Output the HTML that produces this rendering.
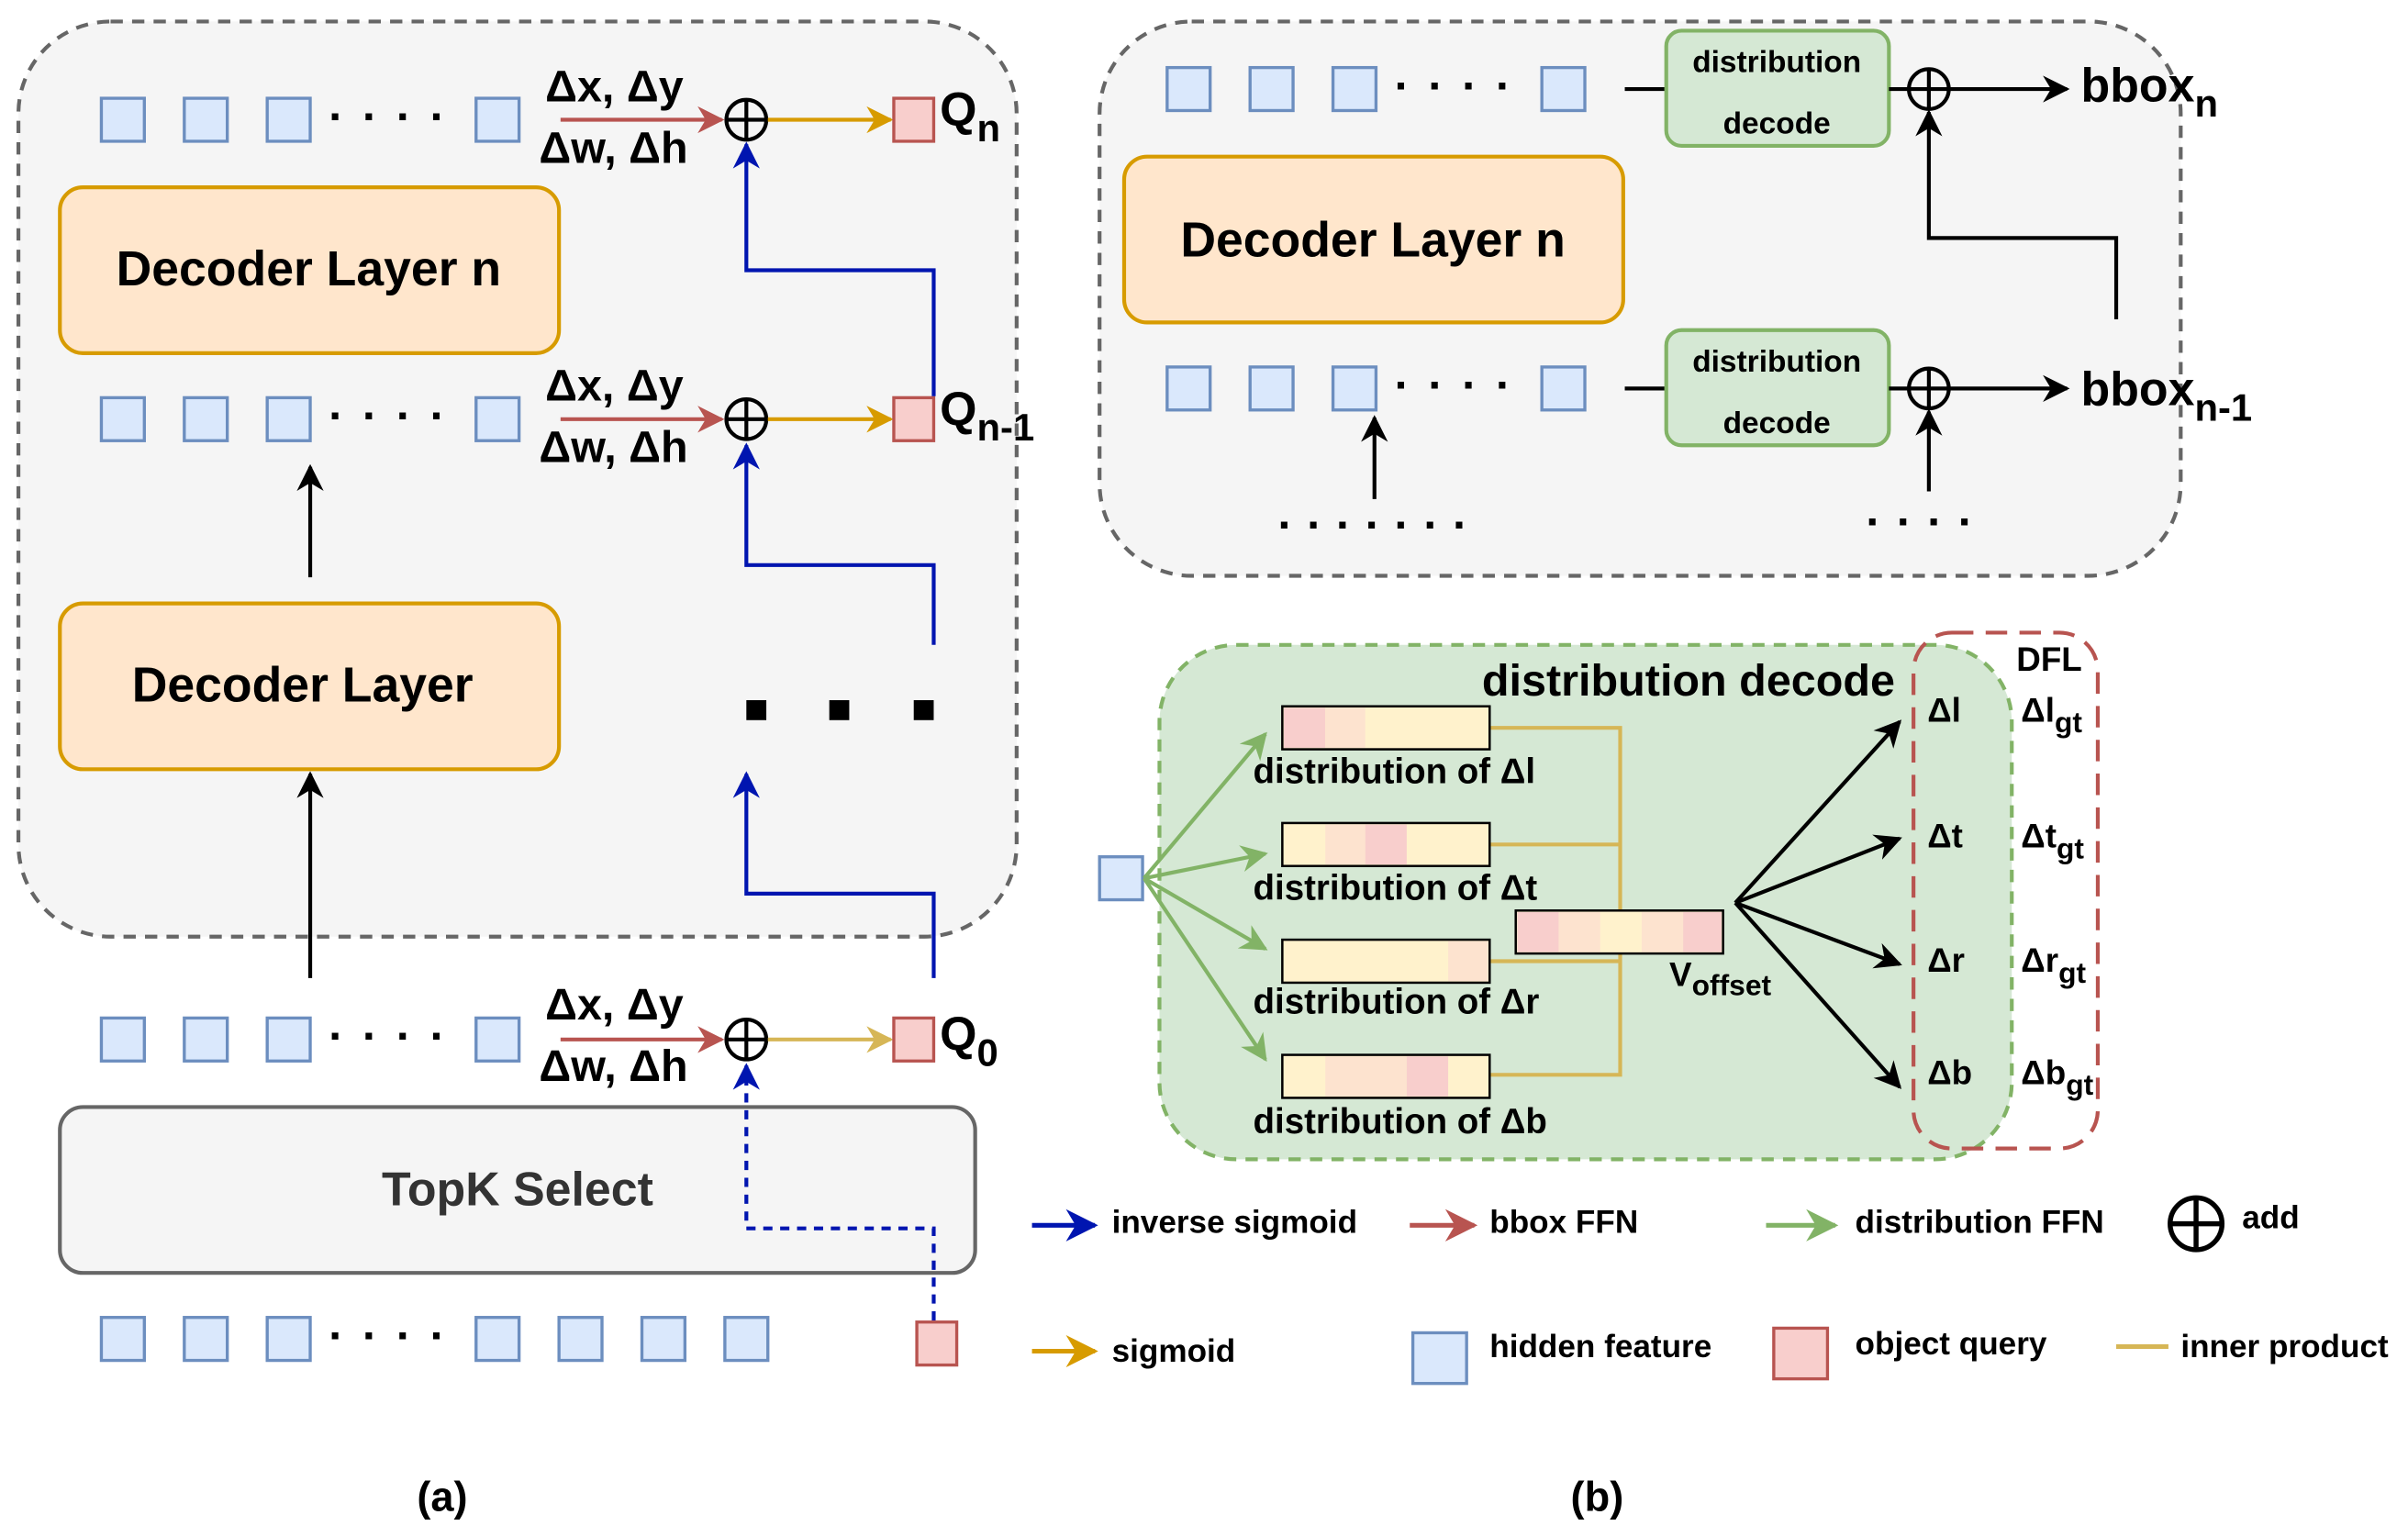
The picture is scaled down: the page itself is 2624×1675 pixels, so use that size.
<!DOCTYPE html>
<html><head><meta charset="utf-8"><style>html,body{margin:0;padding:0;background:#fff}svg{display:block}text{font-family:"Liberation Sans",Arial,sans-serif;font-weight:bold;fill:#000}</style></head><body>
<svg width="2624" height="1675" viewBox="0 0 1568 1001" preserveAspectRatio="none" xmlns="http://www.w3.org/2000/svg">
<defs>
<marker id="ab" viewBox="0 0 10 10" refX="9" refY="5" markerWidth="7" markerHeight="7" orient="auto"><path d="M0,0L10,5L0,10L3,5z" fill="#0015b0"/></marker>
<marker id="ar" viewBox="0 0 10 10" refX="9" refY="5" markerWidth="7" markerHeight="7" orient="auto"><path d="M0,0L10,5L0,10L3,5z" fill="#b85450"/></marker>
<marker id="ao" viewBox="0 0 10 10" refX="9" refY="5" markerWidth="7" markerHeight="7" orient="auto"><path d="M0,0L10,5L0,10L3,5z" fill="#d79b00"/></marker>
<marker id="ay" viewBox="0 0 10 10" refX="9" refY="5" markerWidth="7" markerHeight="7" orient="auto"><path d="M0,0L10,5L0,10L3,5z" fill="#d6b656"/></marker>
<marker id="ak" viewBox="0 0 10 10" refX="9" refY="5" markerWidth="7" markerHeight="7" orient="auto"><path d="M0,0L10,5L0,10L3,5z" fill="#000"/></marker>
<marker id="ag" viewBox="0 0 10 10" refX="9" refY="5" markerWidth="7" markerHeight="7" orient="auto"><path d="M0,0L10,5L0,10L3,5z" fill="#82b366"/></marker>
<g id="sq"><rect width="28" height="28" fill="#dae8fc" stroke="#6c8ebf" stroke-width="2"/></g>
<g id="rq"><rect width="26" height="28" fill="#f8cecc" stroke="#b85450" stroke-width="2"/></g>
<g id="cp"><circle r="13" fill="none" stroke="#000" stroke-width="2.5"/><path d="M-13,0H13M0,-13V13" stroke="#000" stroke-width="2.5"/></g>
</defs>
<rect x="12" y="14" width="650" height="596" rx="60" fill="#f5f5f5" stroke="#666" stroke-width="2.5" stroke-dasharray="8,6"/>
<g id="row">
<use href="#sq" x="66" y="64"/><use href="#sq" x="120" y="64"/><use href="#sq" x="174" y="64"/><use href="#sq" x="310" y="64"/>
<text x="214" y="86" font-size="30" letter-spacing="12">····</text>
</g>
<use href="#row" y="195"/>
<use href="#row" y="599"/>
<use href="#sq" x="66" y="858"/><use href="#sq" x="120" y="858"/><use href="#sq" x="174" y="858"/><use href="#sq" x="310" y="858"/><use href="#sq" x="364" y="858"/><use href="#sq" x="418" y="858"/><use href="#sq" x="472" y="858"/>
<text x="214" y="880" font-size="30" letter-spacing="12">····</text>
<use href="#rq" x="597" y="861"/>
<g id="op">
<line x1="365" y1="78" x2="470" y2="78" stroke="#b85450" stroke-width="2.5" marker-end="url(#ar)"/>
<use href="#cp" x="486" y="78"/>
<line x1="500" y1="78" x2="580" y2="78" stroke="#d79b00" stroke-width="2.5" marker-end="url(#ao)"/>
<text x="355" y="66" font-size="29">Δx, Δy</text>
<text x="351" y="106" font-size="29">Δw, Δh</text>
</g>
<use href="#rq" x="582" y="64"/><text x="612" y="82" font-size="31">Q<tspan font-size="25" dy="10">n</tspan></text>
<use href="#op" y="195"/>
<use href="#rq" x="582" y="259"/><text x="612" y="277" font-size="31">Q<tspan font-size="25" dy="10">n-1</tspan></text>
<line x1="365" y1="677" x2="470" y2="677" stroke="#b85450" stroke-width="2.5" marker-end="url(#ar)"/>
<use href="#cp" x="486" y="677"/>
<line x1="500" y1="677" x2="580" y2="677" stroke="#d6b656" stroke-width="2.5" marker-end="url(#ay)"/>
<text x="355" y="664" font-size="29">Δx, Δy</text><text x="351" y="704" font-size="29">Δw, Δh</text>
<use href="#rq" x="582" y="663"/><text x="612" y="684" font-size="31">Q<tspan font-size="25" dy="10">0</tspan></text>
<rect x="39" y="122" width="325" height="108" rx="15" fill="#ffe6cc" stroke="#d79b00" stroke-width="2.5"/>
<text x="201" y="186" font-size="32" text-anchor="middle">Decoder Layer n</text>
<rect x="39" y="393" width="325" height="108" rx="15" fill="#ffe6cc" stroke="#d79b00" stroke-width="2.5"/>
<text x="197" y="457" font-size="32" text-anchor="middle">Decoder Layer</text>
<rect x="39" y="721" width="596" height="108" rx="15" fill="#f5f5f5" stroke="#666" stroke-width="2.5"/>
<text x="337" y="785" font-size="31" text-anchor="middle" style="fill:#333">TopK Select</text>
<g fill="none" stroke="#0015b0" stroke-width="2.5">
<path d="M608,258V176H486V94" marker-end="url(#ab)"/>
<path d="M608,420V368H486V290" marker-end="url(#ab)"/>
<path d="M608,637V582H486V504" marker-end="url(#ab)"/>
<path d="M608,860V800H486V694" stroke-dasharray="6,5" marker-end="url(#ab)"/>
</g>
<g stroke="#000" stroke-width="2.5">
<line x1="202" y1="376" x2="202" y2="304" marker-end="url(#ak)"/>
<line x1="202" y1="637" x2="202" y2="504" marker-end="url(#ak)"/>
</g>
<rect x="486" y="456" width="13" height="13"/><rect x="540" y="456" width="13" height="13"/><rect x="595" y="456" width="13" height="13"/>
<rect x="716" y="14" width="704" height="361" rx="60" fill="#f5f5f5" stroke="#666" stroke-width="2.5" stroke-dasharray="8,6"/>
<g id="rrow">
<use href="#sq" x="760" y="44"/><use href="#sq" x="814" y="44"/><use href="#sq" x="868" y="44"/><use href="#sq" x="1004" y="44"/>
<text x="908" y="66" font-size="30" letter-spacing="12">····</text>
<line x1="1058" y1="58" x2="1085" y2="58" stroke="#000" stroke-width="2.5"/>
<rect x="1085" y="20" width="145" height="75" rx="10" fill="#d5e8d4" stroke="#82b366" stroke-width="2.5"/>
<text x="1157" y="47" font-size="20" text-anchor="middle">distribution</text>
<text x="1157" y="87" font-size="20" text-anchor="middle">decode</text>
<line x1="1230" y1="58" x2="1242" y2="58" stroke="#000" stroke-width="2.5"/>
<use href="#cp" x="1256" y="58"/>
<line x1="1269" y1="58" x2="1346" y2="58" stroke="#000" stroke-width="2.5" marker-end="url(#ak)"/>
</g>
<use href="#rrow" y="195"/>
<text x="1355" y="66" font-size="31">bbox<tspan font-size="25" dy="10">n</tspan></text>
<text x="1355" y="264" font-size="31">bbox<tspan font-size="25" dy="10">n-1</tspan></text>
<rect x="732" y="102" width="325" height="108" rx="15" fill="#ffe6cc" stroke="#d79b00" stroke-width="2.5"/>
<text x="894" y="167" font-size="32" text-anchor="middle">Decoder Layer n</text>
<g fill="none" stroke="#000" stroke-width="2.5">
<path d="M1378,208V155H1256V73" marker-end="url(#ak)"/>
<path d="M1256,320V268" marker-end="url(#ak)"/>
<path d="M895,325V272" marker-end="url(#ak)"/>
</g>
<text x="832" y="352" font-size="30" letter-spacing="9">·······</text>
<text x="1215" y="350" font-size="30" letter-spacing="10">····</text>
<rect x="755" y="420" width="555" height="335" rx="50" fill="#d5e8d4" stroke="#82b366" stroke-width="2.5" stroke-dasharray="8,6"/>
<rect x="1246" y="412" width="120" height="336" rx="25" fill="none" stroke="#b85450" stroke-width="2.5" stroke-dasharray="14,8"/>
<text x="965" y="453" font-size="29">distribution decode</text>
<text x="1313" y="437" font-size="22">DFL</text>
<use href="#sq" x="716" y="558"/>
<g stroke="#82b366" stroke-width="2.5">
<line x1="745" y1="572" x2="824" y2="478" marker-end="url(#ag)"/>
<line x1="745" y1="572" x2="824" y2="556" marker-end="url(#ag)"/>
<line x1="745" y1="572" x2="824" y2="618" marker-end="url(#ag)"/>
<line x1="745" y1="572" x2="824" y2="690" marker-end="url(#ag)"/>
</g>
<g fill="none" stroke="#d6b656" stroke-width="2.5">
<path d="M970,474H1055V700H970M970,550H1055M970,626H1055M1055,607H987"/>
</g>
<g stroke="#000" stroke-width="1.5">
<rect x="835" y="460" width="135" height="28" fill="#fff2cc"/>
<rect x="835" y="536" width="135" height="28" fill="#fff2cc"/>
<rect x="835" y="612" width="135" height="28" fill="#fff2cc"/>
<rect x="835" y="687" width="135" height="28" fill="#fff2cc"/>
<rect x="987" y="593" width="135" height="28" fill="#fff2cc"/>
</g>
<g stroke="none">
<rect x="836" y="461" width="27" height="26" fill="#f8cecc"/><rect x="863" y="461" width="26" height="26" fill="#fde3cf"/>
<rect x="863" y="537" width="26" height="26" fill="#fde3cf"/><rect x="889" y="537" width="27" height="26" fill="#f8cecc"/>
<rect x="943" y="613" width="26" height="26" fill="#fde3cf"/>
<rect x="863" y="688" width="53" height="26" fill="#fde3cf"/><rect x="916" y="688" width="27" height="26" fill="#f8cecc"/>
<rect x="988" y="594" width="27" height="26" fill="#f8cecc"/><rect x="1015" y="594" width="27" height="26" fill="#fde3cf"/><rect x="1069" y="594" width="27" height="26" fill="#fde3cf"/><rect x="1096" y="594" width="25" height="26" fill="#f8cecc"/>
</g>
<text x="816" y="510" font-size="23">distribution of Δl</text>
<text x="816" y="586" font-size="23">distribution of Δt</text>
<text x="816" y="660" font-size="23">distribution of Δr</text>
<text x="816" y="738" font-size="23">distribution of Δb</text>
<text x="1087" y="642" font-size="22">V<tspan font-size="19" dy="6">offset</tspan></text>
<g stroke="#000" stroke-width="2.5">
<line x1="1130" y1="588" x2="1237" y2="470" marker-end="url(#ak)"/>
<line x1="1130" y1="588" x2="1237" y2="546" marker-end="url(#ak)"/>
<line x1="1130" y1="588" x2="1237" y2="628" marker-end="url(#ak)"/>
<line x1="1130" y1="588" x2="1237" y2="708" marker-end="url(#ak)"/>
</g>
<g font-size="22">
<text x="1255" y="470">Δl</text><text x="1255" y="552">Δt</text><text x="1255" y="633">Δr</text><text x="1255" y="706">Δb</text>
<text x="1316" y="470">Δl<tspan font-size="19" dy="7">gt</tspan></text>
<text x="1316" y="552">Δt<tspan font-size="19" dy="7">gt</tspan></text>
<text x="1316" y="633">Δr<tspan font-size="19" dy="7">gt</tspan></text>
<text x="1316" y="706">Δb<tspan font-size="19" dy="7">gt</tspan></text>
</g>
<line x1="672" y1="798" x2="713" y2="798" stroke="#0015b0" stroke-width="3" marker-end="url(#ab)"/>
<text x="724" y="803" font-size="21">inverse sigmoid</text>
<line x1="918" y1="798" x2="960" y2="798" stroke="#b85450" stroke-width="3" marker-end="url(#ar)"/>
<text x="970" y="803" font-size="21">bbox FFN</text>
<line x1="1150" y1="798" x2="1195" y2="798" stroke="#82b366" stroke-width="3" marker-end="url(#ag)"/>
<text x="1208" y="803" font-size="21">distribution FFN</text>
<g transform="translate(1430,797) scale(1.3)"><use href="#cp"/></g>
<text x="1460" y="800" font-size="21">add</text>
<line x1="672" y1="880" x2="713" y2="880" stroke="#d79b00" stroke-width="3" marker-end="url(#ao)"/>
<text x="724" y="887" font-size="21">sigmoid</text>
<rect x="920" y="868" width="35" height="33" fill="#dae8fc" stroke="#6c8ebf" stroke-width="2"/>
<text x="970" y="884" font-size="21">hidden feature</text>
<rect x="1155" y="865" width="35" height="33" fill="#f8cecc" stroke="#b85450" stroke-width="2"/>
<text x="1208" y="882" font-size="21">object query</text>
<line x1="1378" y1="877" x2="1412" y2="877" stroke="#d6b656" stroke-width="3"/>
<text x="1420" y="884" font-size="21">inner product</text>
<text x="288" y="984" font-size="27" text-anchor="middle">(a)</text>
<text x="1040" y="984" font-size="27" text-anchor="middle">(b)</text>
</svg>
</body></html>
